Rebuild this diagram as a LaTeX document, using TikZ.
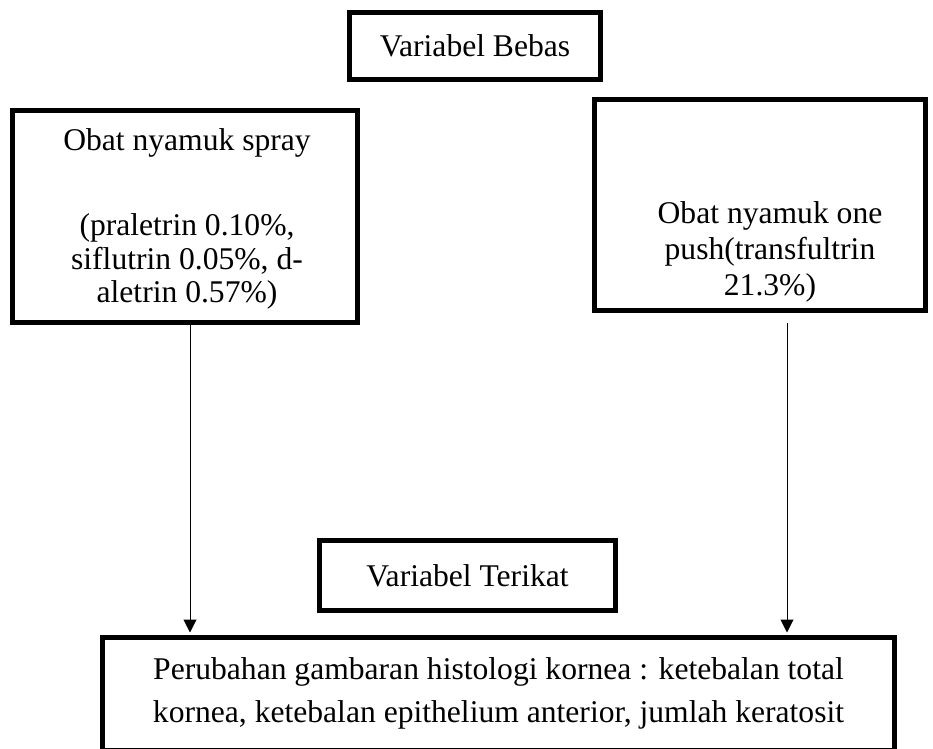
\documentclass[tikz,border=0pt]{standalone}
\usepackage{fontspec}
\setmainfont{Liberation Serif}
\usetikzlibrary{arrows.meta}
\tikzset{
	kotak/.style={draw, line width=2.5pt, inner sep=0pt, align=center},
	teks/.style={inner sep=0pt, align=center},
	panah/.style={line width=0.5pt, -{Triangle[length=6.5pt,width=6.5pt]}},
}
\begin{document}
\begin{tikzpicture}[x=0.5pt,y=-0.5pt,font=\fontsize{15.8}{16.75}\selectfont]
	\useasboundingbox (0,0) rectangle (933,749);
	% Variabel Bebas
	\node[kotak,minimum width=125.5pt,minimum height=33.5pt] (bebas) at (475,46) {Variabel Bebas};
	\node[kotak,minimum width=172.5pt,minimum height=106pt] (spray) at (185,216.5) {};
	\node[teks] (sprayteks) at (187,219)
		{Obat nyamuk spray\\[26pt](praletrin 0.10\%,\\siflutrin 0.05\%, d-\\aletrin 0.57\%)};
	\node[kotak,minimum width=165.5pt,minimum height=105.5pt] (onepush) at (760,205) {};
	\node[teks,font=\fontsize{15.8}{18}\selectfont] (onepushteks) at (770,252)
		{Obat nyamuk one\\push(transfultrin\\21.3\%)};
	% Variabel Terikat
	\node[kotak,minimum width=148pt,minimum height=35pt] (terikat) at (467.5,575.5) {Variabel Terikat};
	\node[kotak,minimum width=396pt,minimum height=56.25pt,font=\fontsize{15.8}{21.5}\selectfont] (hasil) at (498.5,693.75)
		{Perubahan gambaran histologi kornea : ketebalan total\\kornea, ketebalan epithelium anterior, jumlah keratosit};
	% panah
	\coordinate (kiri) at (190,0);
	\coordinate (kanan) at (787,0);
	\draw[panah,shorten >=1.25pt] (spray.south -| kiri) -- (hasil.north -| kiri);
	\draw[panah,shorten <=5pt,shorten >=1.25pt] (onepush.south -| kanan) -- (hasil.north -| kanan);
\end{tikzpicture}
\end{document}
